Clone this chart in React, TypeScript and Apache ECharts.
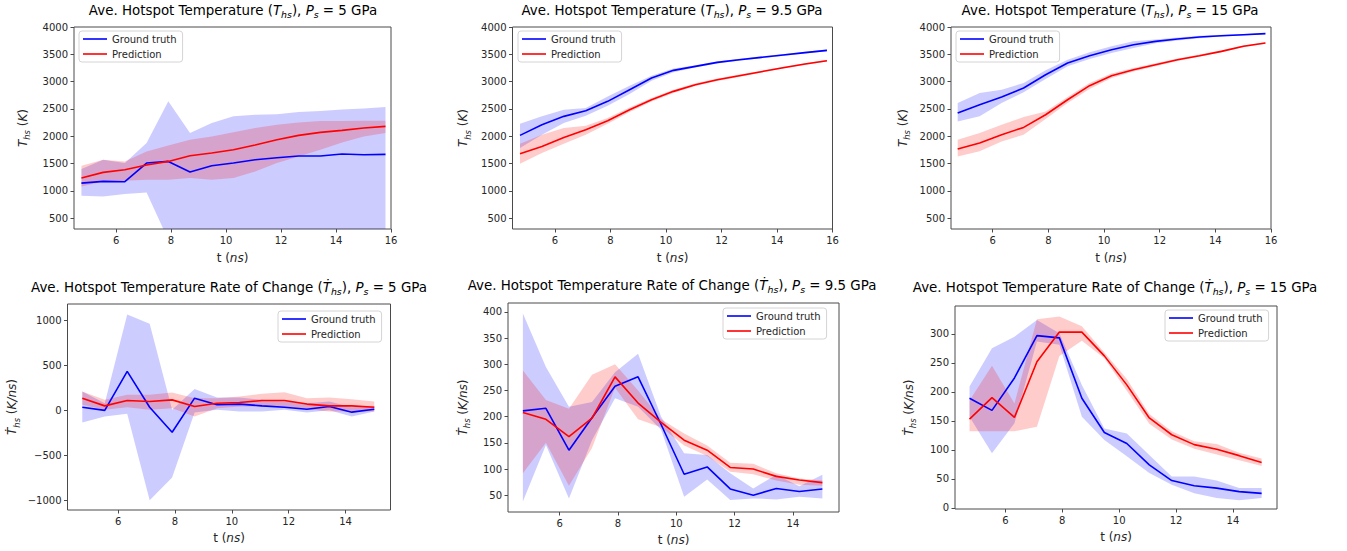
import React, { useEffect, useRef } from "react";
import * as echarts from "echarts";

// ---------- data ----------
const tTemp = [4.74, 5.53, 6.32, 7.11, 7.9, 8.69, 9.48, 10.27, 11.06, 11.85, 12.64, 13.43, 14.22, 15.01, 15.8];
const tRate = [4.74, 5.53, 6.32, 7.11, 7.9, 8.69, 9.48, 10.27, 11.06, 11.85, 12.64, 13.43, 14.22, 15.01];

// Temperature, Ps = 5 GPa
const gt5 = [1141, 1172, 1166, 1508, 1538, 1343, 1459, 1508, 1569, 1605, 1636, 1636, 1673, 1660, 1666];
const gt5Hi = [1400, 1570, 1510, 1874, 2638, 2057, 2241, 2363, 2393, 2400, 2442, 2460, 2491, 2509, 2534];
const gt5Lo = [909, 897, 940, 970, 100, 150, 150, 200, 200, 200, 250, 250, 250, 250, 250];
const pr5 = [1233, 1337, 1385, 1471, 1538, 1641, 1691, 1752, 1838, 1935, 2015, 2070, 2106, 2149, 2180];
const pr5Hi = [1459, 1569, 1538, 1721, 1831, 1935, 1996, 2070, 2149, 2210, 2253, 2277, 2277, 2283, 2283];
const pr5Lo = [1080, 1172, 1184, 1202, 1202, 1233, 1202, 1233, 1355, 1508, 1630, 1752, 1886, 1996, 2057];

// Temperature, Ps = 9.5 GPa
const gt95 = [2015, 2210, 2363, 2467, 2638, 2852, 3065, 3206, 3279, 3352, 3401, 3444, 3487, 3530, 3572];
const gt95Hi = [2228, 2363, 2485, 2516, 2729, 2925, 3108, 3240, 3300, 3372, 3420, 3462, 3504, 3546, 3588];
const gt95Lo = [1783, 2027, 2241, 2375, 2558, 2772, 3017, 3172, 3258, 3332, 3382, 3426, 3470, 3514, 3556];
const pr95 = [1679, 1813, 1978, 2118, 2283, 2485, 2668, 2821, 2943, 3035, 3108, 3181, 3255, 3322, 3383];
const pr95Hi = [1862, 2027, 2149, 2192, 2332, 2525, 2700, 2850, 2968, 3058, 3130, 3200, 3272, 3338, 3398];
const pr95Lo = [1496, 1691, 1862, 2027, 2228, 2445, 2636, 2792, 2918, 3012, 3086, 3162, 3238, 3306, 3368];

// Temperature, Ps = 15 GPa
const gt15 = [2424, 2577, 2717, 2882, 3126, 3340, 3475, 3585, 3676, 3737, 3780, 3817, 3841, 3859, 3878];
const gt15Hi = [2607, 2790, 2852, 2974, 3206, 3401, 3536, 3646, 3737, 3770, 3806, 3838, 3858, 3872, 3890];
const gt15Lo = [2271, 2363, 2607, 2803, 3047, 3279, 3414, 3524, 3615, 3704, 3754, 3796, 3824, 3846, 3866];
const pr15 = [1764, 1874, 2027, 2161, 2393, 2668, 2925, 3108, 3218, 3310, 3401, 3475, 3554, 3646, 3707];
const pr15Hi = [1935, 2057, 2210, 2351, 2454, 2717, 2974, 3150, 3250, 3338, 3425, 3496, 3572, 3662, 3722];
const pr15Lo = [1630, 1722, 1905, 2027, 2314, 2607, 2864, 3066, 3186, 3282, 3377, 3454, 3536, 3630, 3692];

// Rate of change, Ps = 5 GPa
const gt5r = [35, 0, 434, 35, -244, 136, 62, 70, 50, 35, 13, 43, -20, 13];
const gt5rHi = [210, 80, 1067, 966, 6, 237, 143, 143, 117, 99, 80, 99, 35, 50];
const gt5rLo = [-136, -69, -39, -1000, -747, -24, 6, -13, -13, 6, -24, 0, -69, -13];
const pr5r = [136, 50, 110, 99, 117, 43, 80, 88, 110, 110, 70, 50, 50, 35];
const pr5rHi = [210, 117, 173, 173, 199, 136, 136, 155, 184, 203, 136, 143, 125, 99];
const pr5rLo = [62, 6, 35, 6, 24, -69, 24, 43, 43, 35, 13, -13, -13, -13];

// Rate of change, Ps = 9.5 GPa
const gt95r = [211, 216, 136, 198, 258, 276, 185, 90, 104, 62, 50, 63, 57, 62];
const gt95rHi = [397, 295, 219, 228, 285, 320, 200, 130, 127, 92, 63, 89, 67, 89];
const gt95rLo = [38, 146, 44, 155, 235, 219, 175, 47, 80, 41, 44, 42, 47, 44];
const pr95r = [208, 195, 162, 197, 276, 226, 189, 155, 136, 103, 100, 86, 79, 74];
const pr95rHi = [288, 232, 215, 280, 300, 250, 195, 168, 145, 112, 110, 92, 82, 78];
const pr95rLo = [92, 150, 68, 140, 255, 195, 180, 145, 125, 95, 90, 78, 70, 68];

// Rate of change, Ps = 15 GPa
const gt15r = [189, 168, 224, 297, 293, 189, 130, 111, 74, 47, 38, 34, 28, 25];
const gt15rHi = [209, 275, 295, 324, 301, 212, 137, 128, 91, 54, 54, 47, 34, 34];
const gt15rLo = [157, 94, 146, 287, 281, 157, 117, 89, 60, 40, 25, 17, 13, 17];
const pr15r = [153, 190, 156, 252, 303, 303, 262, 212, 155, 126, 109, 101, 90, 78];
const pr15rHi = [185, 245, 180, 325, 330, 313, 268, 222, 162, 132, 115, 110, 95, 85];
const pr15rLo = [132, 132, 132, 140, 262, 288, 258, 202, 145, 118, 102, 92, 82, 72];

// tick labels
const tempTicksX = [6, 8, 10, 12, 14, 16];
const rateTicksX = [6, 8, 10, 12, 14];
const tempTicksY = [500, 1000, 1500, 2000, 2500, 3000, 3500, 4000];
const rate5TicksY = [-1000, -500, 0, 500, 1000];
const rate95TicksY = [50, 100, 150, 200, 250, 300, 350, 400];
const rate15TicksY = [0, 50, 100, 150, 200, 250, 300];

const pressures = ["5", "9.5", "15"];
const legendNames = ["Ground truth", "Prediction"];

// ---------- styling ----------
const FONT = "DejaVu Sans";
const TXT = "#262626";
const FRAME = "#4a4a4a";
const BLUE = "#0000ff";
const RED = "#ff0000";
const BLUE_FILL = "rgba(0,0,255,0.2)";
const RED_FILL = "rgba(255,0,0,0.2)";

const rich = (size: number) => ({
  n: { fontSize: size, fontFamily: FONT, color: TXT, lineHeight: size * 1.35 },
  i: { fontSize: size, fontFamily: FONT, fontStyle: "italic", color: TXT, lineHeight: size * 1.35 },
  s: {
    fontSize: size * 0.7,
    fontFamily: FONT,
    fontStyle: "italic",
    color: TXT,
    verticalAlign: "bottom",
    lineHeight: size * 0.8,
  },
});

const tempTitle = (p: string) => `{n|Ave. Hotspot Temperature (}{i|T}{s|hs}{n|), }{i|P}{s|s}{n| = ${p} GPa}`;
const rateTitle = (p: string) =>
  `{n|Ave. Hotspot Temperature Rate of Change (}{i|Ṫ}{s|hs}{n|), }{i|P}{s|s}{n| = ${p} GPa}`;
const tempYName = "{i|T}{s|hs}{n| (}{i|K}{n|)}";
const rateYName = "{i|Ṫ}{s|hs}{n| (}{i|K/ns}{n|)}";
const xName = "{n|t (}{i|ns}{n|)}";

type Panel = {
  grid: { left: number; top: number; width: number; height: number };
  x: [number, number];
  y: [number, number];
  xTicks: number[];
  yTicks: number[];
  xs: number[];
  gt: number[];
  gtLo: number[];
  gtHi: number[];
  pr: number[];
  prLo: number[];
  prHi: number[];
  title: string;
  titlePos: [number, number];
  yName: string;
  yNameGap: number;
  xNameGap: number;
  legendPos: [number, number];
};

const panels: Panel[] = [
  {
    grid: { left: 74, top: 27, width: 317, height: 202 },
    x: [4.47, 16], y: [300, 4000], xTicks: tempTicksX, yTicks: tempTicksY,
    xs: tTemp, gt: gt5, gtLo: gt5Lo, gtHi: gt5Hi, pr: pr5, prLo: pr5Lo, prHi: pr5Hi,
    title: tempTitle(pressures[0]), titlePos: [233, 10], yName: tempYName, yNameGap: 43, xNameGap: 21,
    legendPos: [79, 31],
  },
  {
    grid: { left: 512.5, top: 27, width: 320, height: 202 },
    x: [4.47, 16], y: [300, 4000], xTicks: tempTicksX, yTicks: tempTicksY,
    xs: tTemp, gt: gt95, gtLo: gt95Lo, gtHi: gt95Hi, pr: pr95, prLo: pr95Lo, prHi: pr95Hi,
    title: tempTitle(pressures[1]), titlePos: [672, 10], yName: tempYName, yNameGap: 41, xNameGap: 21,
    legendPos: [518, 31],
  },
  {
    grid: { left: 951, top: 27, width: 320, height: 202 },
    x: [4.5, 16], y: [300, 4000], xTicks: tempTicksX, yTicks: tempTicksY,
    xs: tTemp, gt: gt15, gtLo: gt15Lo, gtHi: gt15Hi, pr: pr15, prLo: pr15Lo, prHi: pr15Hi,
    title: tempTitle(pressures[2]), titlePos: [1110, 10], yName: tempYName, yNameGap: 40, xNameGap: 21,
    legendPos: [956, 31],
  },
  {
    grid: { left: 67.5, top: 304, width: 323, height: 206 },
    x: [4.22, 15.58], y: [-1110, 1185], xTicks: rateTicksX, yTicks: rate5TicksY,
    xs: tRate, gt: gt5r, gtLo: gt5rLo, gtHi: gt5rHi, pr: pr5r, prLo: pr5rLo, prHi: pr5rHi,
    title: rateTitle(pressures[0]), titlePos: [229, 287], yName: rateYName, yNameGap: 47, xNameGap: 20,
    legendPos: [278, 311],
  },
  {
    grid: { left: 508, top: 303, width: 331, height: 209 },
    x: [4.23, 15.58], y: [18, 417], xTicks: rateTicksX, yTicks: rate95TicksY,
    xs: tRate, gt: gt95r, gtLo: gt95rLo, gtHi: gt95rHi, pr: pr95r, prLo: pr95rLo, prHi: pr95rHi,
    title: rateTitle(pressures[1]), titlePos: [672, 285], yName: rateYName, yNameGap: 37, xNameGap: 20,
    legendPos: [723, 308],
  },
  {
    grid: { left: 955, top: 306, width: 322, height: 203 },
    x: [4.23, 15.55], y: [-2, 348], xTicks: rateTicksX, yTicks: rate15TicksY,
    xs: tRate, gt: gt15r, gtLo: gt15rLo, gtHi: gt15rHi, pr: pr15r, prLo: pr15rLo, prHi: pr15rHi,
    title: rateTitle(pressures[2]), titlePos: [1115, 287], yName: rateYName, yNameGap: 38, xNameGap: 20,
    legendPos: [1165, 310],
  },
];

function bandSeries(k: number, xs: number[], lo: number[], hi: number[], fill: string) {
  return {
    type: "custom",
    name: "band",
    xAxisIndex: k,
    yAxisIndex: k,
    clip: true,
    silent: true,
    z: 1,
    data: xs.map((x, i) => [x, lo[i], hi[i]]),
    encode: { x: 0, y: [1, 2] },
    renderItem: (params: any, api: any) => {
      if (params.dataIndex !== 0) return null;
      const top = xs.map((x, i) => api.coord([x, hi[i]]));
      const bot = xs.map((x, i) => api.coord([x, lo[i]])).reverse();
      const cs = params.coordSys;
      return {
        type: "polygon",
        shape: { points: top.concat(bot) },
        style: { fill, stroke: null },
        clipPath: { type: "rect", shape: { x: cs.x, y: cs.y, width: cs.width, height: cs.height } },
      };
    },
  };
}

function lineSeries(k: number, name: string, xs: number[], ys: number[], color: string) {
  return {
    type: "line",
    name,
    xAxisIndex: k,
    yAxisIndex: k,
    data: xs.map((x, i) => [x, ys[i]]),
    showSymbol: false,
    symbol: "none",
    z: 3,
    lineStyle: { color, width: 1.6 },
    itemStyle: { color },
  };
}

function buildOption() {
  const grid: any[] = [];
  const xAxis: any[] = [];
  const yAxis: any[] = [];
  const series: any[] = [];
  const legend: any[] = [];
  const graphic: any[] = [];

  panels.forEach((p, k) => {
    grid.push({
      ...p.grid,
      show: true,
      borderColor: FRAME,
      borderWidth: 1,
      backgroundColor: "transparent",
      containLabel: false,
      outerBoundsMode: "none",
    });
    xAxis.push({
      type: "value",
      gridIndex: k,
      min: p.x[0],
      max: p.x[1],
      splitLine: { show: false },
      axisLine: { show: false, onZero: false },
      axisTick: { show: true, inside: false, length: 3.5, customValues: p.xTicks, lineStyle: { color: FRAME } },
      axisLabel: {
        customValues: p.xTicks,
        fontSize: 10,
        fontFamily: FONT,
        color: TXT,
        margin: 6,
        formatter: (v: number) => String(v),
      },
      name: xName,
      nameLocation: "middle",
      nameGap: p.xNameGap,
      nameTextStyle: { rich: rich(12) },
    });
    yAxis.push({
      type: "value",
      gridIndex: k,
      min: p.y[0],
      max: p.y[1],
      splitLine: { show: false },
      axisLine: { show: false, onZero: false },
      axisTick: { show: true, inside: false, length: 3.5, customValues: p.yTicks, lineStyle: { color: FRAME } },
      axisLabel: {
        customValues: p.yTicks,
        fontSize: 10,
        fontFamily: FONT,
        color: TXT,
        margin: 6,
        formatter: (v: number) => String(v).replace("-", "\u2212"),
      },
      name: p.yName,
      nameLocation: "middle",
      nameGap: p.yNameGap,
      nameRotate: 90,
      nameTextStyle: { rich: rich(12) },
    });
    series.push(bandSeries(k, p.xs, p.gtLo, p.gtHi, BLUE_FILL));
    series.push(bandSeries(k, p.xs, p.prLo, p.prHi, RED_FILL));
    series.push(lineSeries(k, legendNames[0], p.xs, p.gt, BLUE));
    series.push(lineSeries(k, legendNames[1], p.xs, p.pr, RED));
    legend.push({
      left: p.legendPos[0],
      top: p.legendPos[1],
      orient: "vertical",
      data: legendNames,
      icon: "rect",
      itemWidth: 24,
      itemHeight: 1.6,
      itemGap: 5,
      padding: [3, 6, 3, 4],
      backgroundColor: "rgba(255,255,255,0.8)",
      borderColor: "#d4d4d4",
      borderWidth: 1,
      borderRadius: 3,
      selectedMode: false,
      textStyle: { fontSize: 10, fontFamily: FONT, color: TXT },
    });
    graphic.push({
      type: "text",
      x: p.titlePos[0],
      y: p.titlePos[1],
      silent: true,
      style: {
        text: p.title,
        align: "center",
        verticalAlign: "middle",
        rich: rich(13.4),
      },
    });
  });

  return {
    animation: false,
    backgroundColor: "#ffffff",
    textStyle: { fontFamily: FONT },
    grid,
    xAxis,
    yAxis,
    series,
    legend,
    graphic,
  };
}

export default function App() {
  const ref = useRef<HTMLDivElement>(null);
  useEffect(() => {
    if (!ref.current) return;
    const chart = echarts.init(ref.current, null, { renderer: "svg" });
    chart.setOption(buildOption() as any);
    return () => chart.dispose();
  }, []);
  return (
    <div
      ref={ref}
      style={{ position: "absolute", left: 0, top: 0, width: 1347, height: 551, background: "#fff" }}
    />
  );
}
